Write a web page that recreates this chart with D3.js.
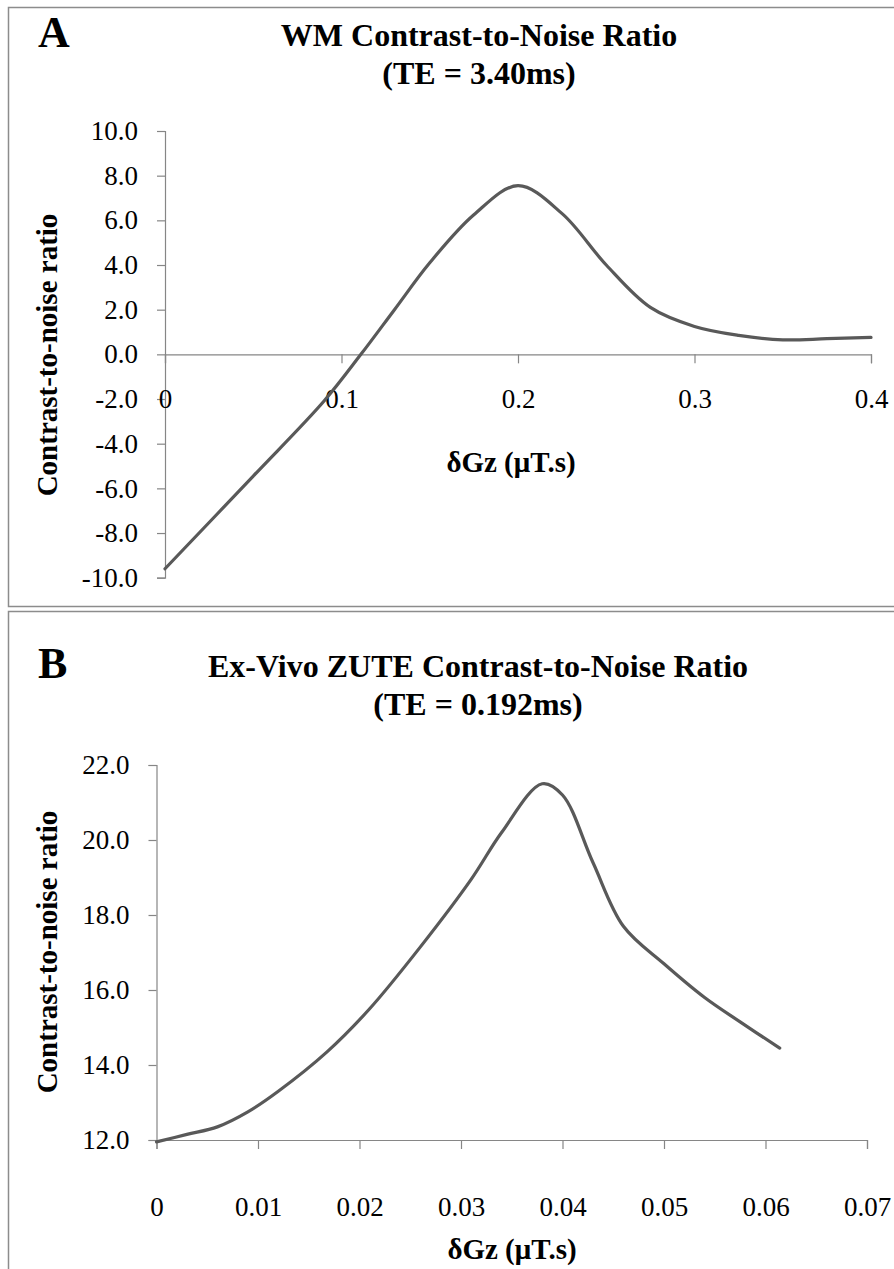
<!DOCTYPE html>
<html>
<head>
<meta charset="utf-8">
<script src="https://cdn.jsdelivr.net/npm/d3@7"></script>
<style>
  html, body { margin: 0; padding: 0; background: #fff; }
  svg { display: block; }
  text { font-family: "Liberation Serif", "Times New Roman", serif; fill: #000; }
</style>
</head>
<body>
<svg id="fig" width="894" height="1269"></svg>
<script>
// Panel A: white matter CNR vs gradient moment
const aGz  = [0, 0.05, 0.09, 0.111, 0.13, 0.15, 0.175, 0.2, 0.225, 0.25, 0.275, 0.3, 0.325, 0.35, 0.375, 0.4];
const aCnr = [-9.6, -5.45, -2.1, 0, 2.0, 4.1, 6.25, 7.55, 6.3, 4.0, 2.1, 1.25, 0.85, 0.65, 0.7, 0.76];
const aXTicks = [0, 0.1, 0.2, 0.3, 0.4];
const aYTicks = [-10, -8, -6, -4, -2, 0, 2, 4, 6, 8, 10];

// Panel B: ex-vivo ZUTE CNR vs gradient moment
const bGz  = [0, 0.003, 0.006, 0.009, 0.012, 0.0168, 0.021, 0.026, 0.031, 0.034, 0.038, 0.040, 0.043, 0.046, 0.050, 0.054, 0.0575, 0.0614];
const bCnr = [11.95, 12.15, 12.35, 12.75, 13.3, 14.35, 15.5, 17.15, 18.95, 20.2, 21.5, 21.2, 19.4, 17.7, 16.7, 15.8, 15.15, 14.45];
const bXTicks = [0, 0.01, 0.02, 0.03, 0.04, 0.05, 0.06, 0.07];
const bYTicks = [12, 14, 16, 18, 20, 22];

const svg = d3.select("#fig");
const axisColor = "#868686";
const lineColor = "#595959";

// panel frames
svg.append("rect").attr("x", 8.5).attr("y", 7.5).attr("width", 900).attr("height", 599)
  .attr("fill", "none").attr("stroke", "#8c8c8c").attr("stroke-width", 1.5);
svg.append("rect").attr("x", 8.5).attr("y", 611.5).attr("width", 900).attr("height", 700)
  .attr("fill", "none").attr("stroke", "#8c8c8c").attr("stroke-width", 1.5);

function panel(cfg) {
  const g = svg.append("g");
  const x = d3.scaleLinear().domain(cfg.xDomain).range(cfg.xRange);
  const y = d3.scaleLinear().domain(cfg.yDomain).range(cfg.yRange);

  // panel letter and title
  g.append("text").attr("x", 38).attr("y", cfg.letterY)
    .attr("font-size", 44).attr("font-weight", "bold").text(cfg.letter);
  g.append("text").attr("x", cfg.titleX).attr("y", cfg.titleY)
    .attr("text-anchor", "middle").attr("font-size", 32).attr("font-weight", "bold").text(cfg.title1);
  g.append("text").attr("x", cfg.titleX).attr("y", cfg.titleY + 38)
    .attr("text-anchor", "middle").attr("font-size", 32).attr("font-weight", "bold").text(cfg.title2);

  // y axis
  const yAxis = g.append("g").attr("transform", `translate(${x(0)},0)`)
    .call(d3.axisLeft(y).tickValues(cfg.yTicks).tickSize(8).tickPadding(19)
      .tickFormat(d => d.toFixed(1)));
  // x axis at the zero crossing / baseline
  const xAxis = g.append("g").attr("transform", `translate(0,${y(cfg.xAxisAt)})`)
    .call(d3.axisBottom(x).tickValues(cfg.xTicks).tickSize(9).tickPadding(cfg.xPad)
      .tickFormat(d => d === 0 ? "0" : d3.format("." + cfg.xDigits + "f")(d)));
  [yAxis, xAxis].forEach(ax => {
    ax.select(".domain").attr("stroke", axisColor).attr("stroke-width", 1.2);
    ax.selectAll(".tick line").attr("stroke", axisColor).attr("stroke-width", 1.2);
    ax.selectAll(".tick text").attr("font-size", 27).attr("fill", "#000");
  });

  // curve
  const line = d3.line().x((d, i) => x(cfg.xs[i])).y(d => y(d)).curve(d3.curveCatmullRom.alpha(0.5));
  g.append("path").datum(cfg.ys).attr("d", line)
    .attr("fill", "none").attr("stroke", lineColor).attr("stroke-width", 3.2)
    .attr("stroke-linecap", "round").attr("stroke-linejoin", "round");

  // axis titles
  g.append("text").attr("x", cfg.xTitleX).attr("y", cfg.xTitleY)
    .attr("text-anchor", "middle").attr("font-size", 29).attr("font-weight", "bold").text("δGz (μT.s)");
  g.append("text").attr("transform", `translate(57,${cfg.yTitleY}) rotate(-90)`)
    .attr("text-anchor", "middle").attr("font-size", 29).attr("font-weight", "bold").text("Contrast-to-noise ratio");
}

panel({
  letter: "A", letterY: 47,
  title1: "WM Contrast-to-Noise Ratio", title2: "(TE = 3.40ms)", titleX: 479, titleY: 46,
  xs: aGz, ys: aCnr,
  xDomain: [0, 0.4], xRange: [165, 871],
  yDomain: [-10, 10], yRange: [577.7, 131],
  xTicks: aXTicks, yTicks: aYTicks, xAxisAt: 0, xPad: 25, xDigits: 1,
  xTitleX: 511, xTitleY: 472, yTitleY: 355
});

panel({
  letter: "B", letterY: 678,
  title1: "Ex-Vivo ZUTE Contrast-to-Noise Ratio", title2: "(TE = 0.192ms)", titleX: 478, titleY: 677,
  xs: bGz, ys: bCnr,
  xDomain: [0, 0.07], xRange: [156.5, 867],
  yDomain: [12, 22], yRange: [1140, 765],
  xTicks: bXTicks, yTicks: bYTicks, xAxisAt: 12, xPad: 48, xDigits: 2,
  xTitleX: 512, xTitleY: 1259, yTitleY: 952
});
</script>
</body>
</html>
